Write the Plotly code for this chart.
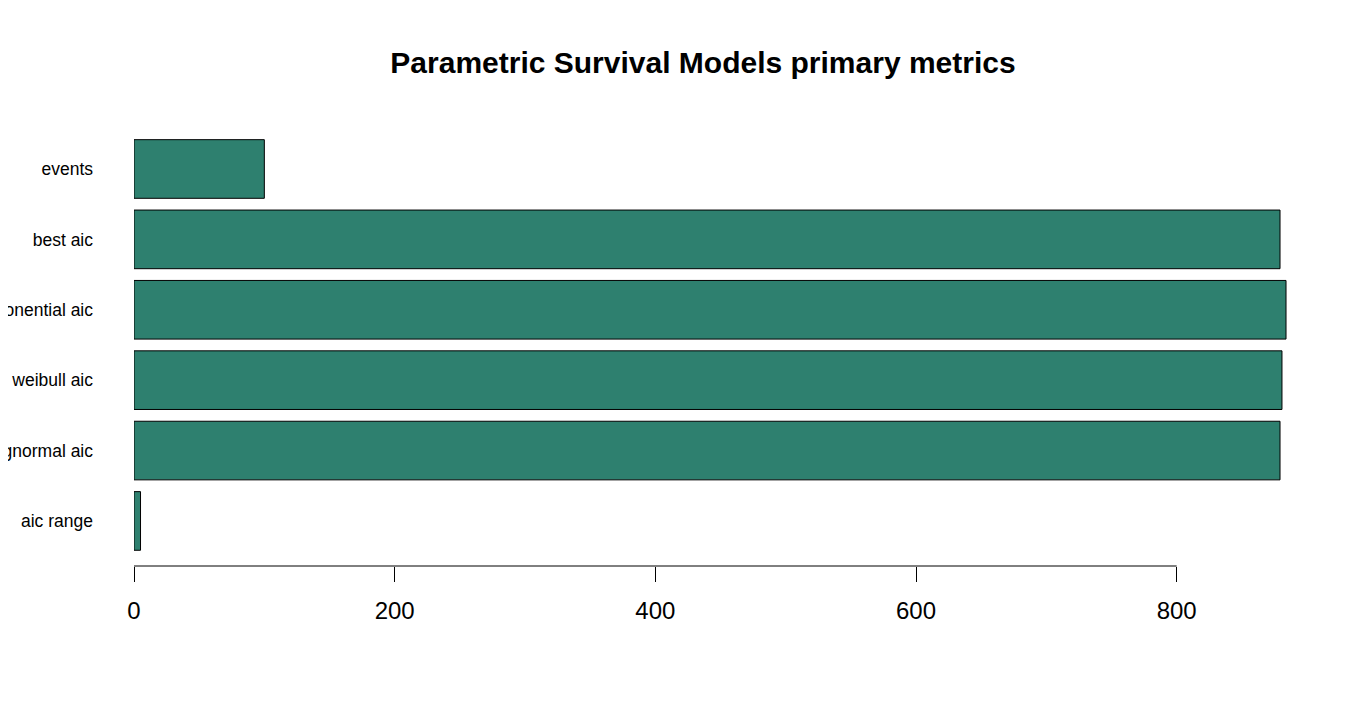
import plotly.graph_objects as go

# metric names, top to bottom as drawn
metrics = ["events", "best aic", "exponential aic", "weibull aic", "lognormal aic", "aic range"]
values = [100, 879.3, 883.9, 880.8, 879.3, 5.0]
x_ticks = [0, 200, 400, 600, 800]

bar_color = "#2E806F"

fig = go.Figure()

# plotly draws categories bottom-up, so reverse
fig.add_trace(go.Bar(
    x=values[::-1],
    y=metrics[::-1],
    orientation="h",
    marker=dict(color=bar_color, line=dict(color="black", width=1)),
    hoverinfo="x+y",
))

# R-style axis line that only spans the ticks
fig.add_shape(
    type="line", xref="x", yref="paper",
    x0=x_ticks[0], x1=x_ticks[-1], y0=0, y1=0,
    line=dict(color="black", width=1),
)

# margins allow for the 8px body margin of the html page
fig.update_layout(
    width=1350,
    height=720,
    plot_bgcolor="white",
    paper_bgcolor="white",
    showlegend=False,
    bargap=0.167,
    margin=dict(l=126, r=51, t=92, b=162, autoexpand=False),
    font=dict(family="Liberation Sans, Arial, sans-serif", color="black"),
    title=dict(
        text="<b>Parametric Survival Models primary metrics</b>",
        font=dict(size=30, color="black"),
        x=695 / 1350, xanchor="center", xref="container",
        y=1 - 54 / 720, yanchor="middle", yref="container",
        automargin=False,
    ),
    xaxis=dict(
        range=[0, 900],
        tickvals=x_ticks,
        ticks="outside",
        ticklen=15,
        tickcolor="black",
        tickfont=dict(size=24),
        showgrid=False,
        zeroline=False,
        showline=False,
        automargin=False,
        ticklabelstandoff=8,
    ),
    yaxis=dict(
        type="category",
        categoryorder="array",
        categoryarray=metrics[::-1],
        range=[-0.64, 5.98],
        showgrid=False,
        zeroline=False,
        showline=False,
        automargin=False,
        ticks="",
        tickfont=dict(size=17.5),
        ticklabelstandoff=40,
    ),
)

fig.write_html("out.html")
